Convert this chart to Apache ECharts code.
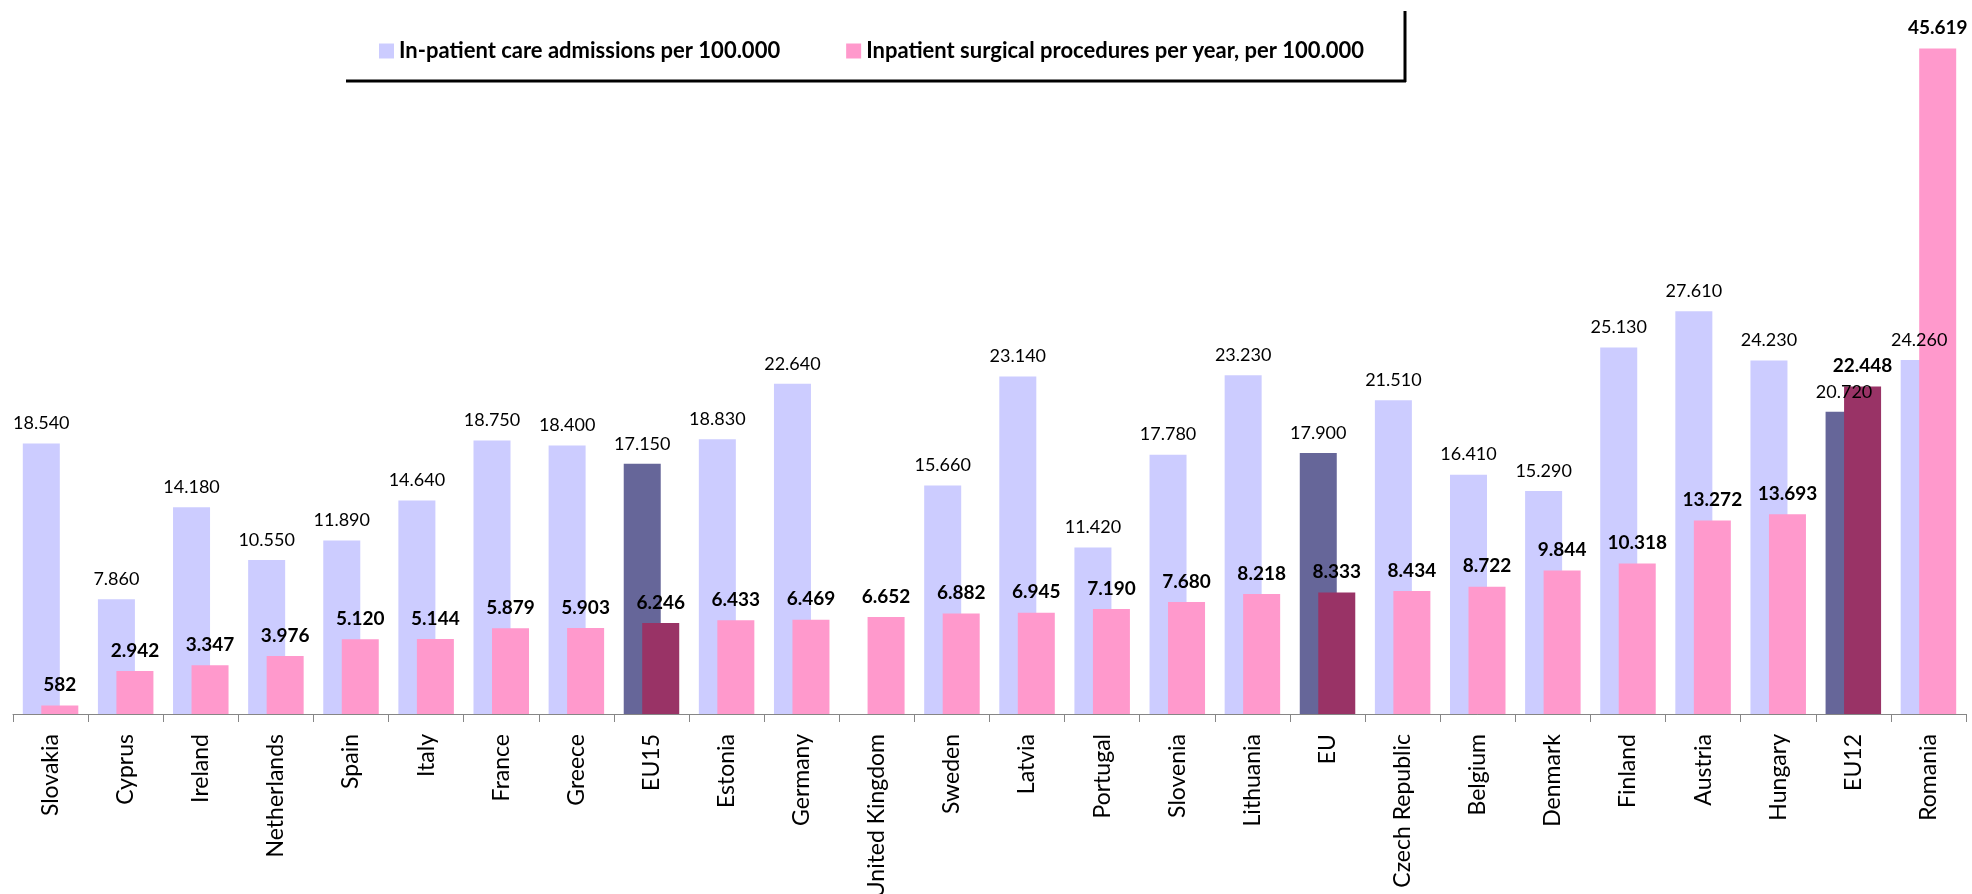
<!DOCTYPE html>
<html>
<head>
<meta charset="utf-8">
<script src="https://cdn.jsdelivr.net/npm/echarts@6/dist/echarts.min.js"></script>
<style>
  html, body { margin: 0; padding: 0; background: #fff; }
  #chart { width: 1972px; height: 894px; }
</style>
</head>
<body>
<div id="chart"></div>
<script>
const categories = ['Slovakia','Cyprus','Ireland','Netherlands','Spain','Italy','France','Greece','EU15','Estonia','Germany','United Kingdom','Sweden','Latvia','Portugal','Slovenia','Lithuania','EU','Czech Republic','Belgium','Denmark','Finland','Austria','Hungary','EU12','Romania'];
const admissions = [18540,7860,14180,10550,11890,14640,18750,18400,17150,18830,22640,null,15660,23140,11420,17780,23230,17900,21510,16410,15290,25130,27610,24230,20720,24260];
const surgical = [582,2942,3347,3976,5120,5144,5879,5903,6246,6433,6469,6652,6882,6945,7190,7680,8218,8333,8434,8722,9844,10318,13272,13693,22448,45619];
const highlighted = ['EU15','EU','EU12'];
const seriesNames = ['In-patient care admissions per 100.000','Inpatient surgical procedures per year, per 100.000'];

const FONT = 'Lato';
const fmt = v => String(v).replace(/\B(?=(\d{3})+(?!\d))/g, '.');

function buildData(values, darkColor) {
  return values.map((v, i) => {
    if (highlighted.includes(categories[i])) {
      return { value: v, itemStyle: { color: darkColor } };
    }
    return v;
  });
}

const chart = echarts.init(document.getElementById('chart'));
chart.setOption({
  animation: false,
  textStyle: { fontFamily: FONT },
  legend: {
    left: 374, top: 35,
    itemWidth: 15, itemHeight: 15, itemGap: 66,
    icon: 'rect',
    textStyle: { fontFamily: FONT, fontSize: 22, fontWeight: 'bold', color: '#000' },
    data: seriesNames
  },
  graphic: [
    { type: 'line', shape: { x1: 346, y1: 81, x2: 1406, y2: 81 }, style: { stroke: '#000', lineWidth: 3 } },
    { type: 'line', shape: { x1: 1405, y1: 11, x2: 1405, y2: 82 }, style: { stroke: '#000', lineWidth: 3 } }
  ],
  grid: { left: 13, right: 6, top: 43, bottom: 180, containLabel: false, outerBoundsMode: 'none' },
  xAxis: {
    type: 'category',
    data: categories,
    axisLine: { lineStyle: { color: '#868686', width: 1 } },
    axisTick: { show: true, length: 8, lineStyle: { color: '#868686' } },
    axisLabel: { interval: 0, rotate: 90, margin: 20, fontFamily: FONT, fontSize: 23, color: '#000' }
  },
  yAxis: {
    type: 'value', min: 0, max: 46000, show: false,
    splitLine: { show: false }
  },
  series: [
    {
      name: seriesNames[0], type: 'bar',
      barWidth: 37, barGap: '-50%',
      itemStyle: { color: '#CCCCFF' },
      data: buildData(admissions, '#666699'),
      label: { show: true, position: 'top', distance: 11, formatter: p => fmt(p.value), fontFamily: FONT, fontSize: 18, color: '#000' }
    },
    {
      name: seriesNames[1], type: 'bar',
      barWidth: 37,
      itemStyle: { color: '#FF99CC' },
      data: buildData(surgical, '#993366'),
      label: { show: true, position: 'top', distance: 11, formatter: p => fmt(p.value), fontFamily: FONT, fontSize: 19, fontWeight: 'bold', color: '#000' }
    }
  ]
});
</script>
</body>
</html>
